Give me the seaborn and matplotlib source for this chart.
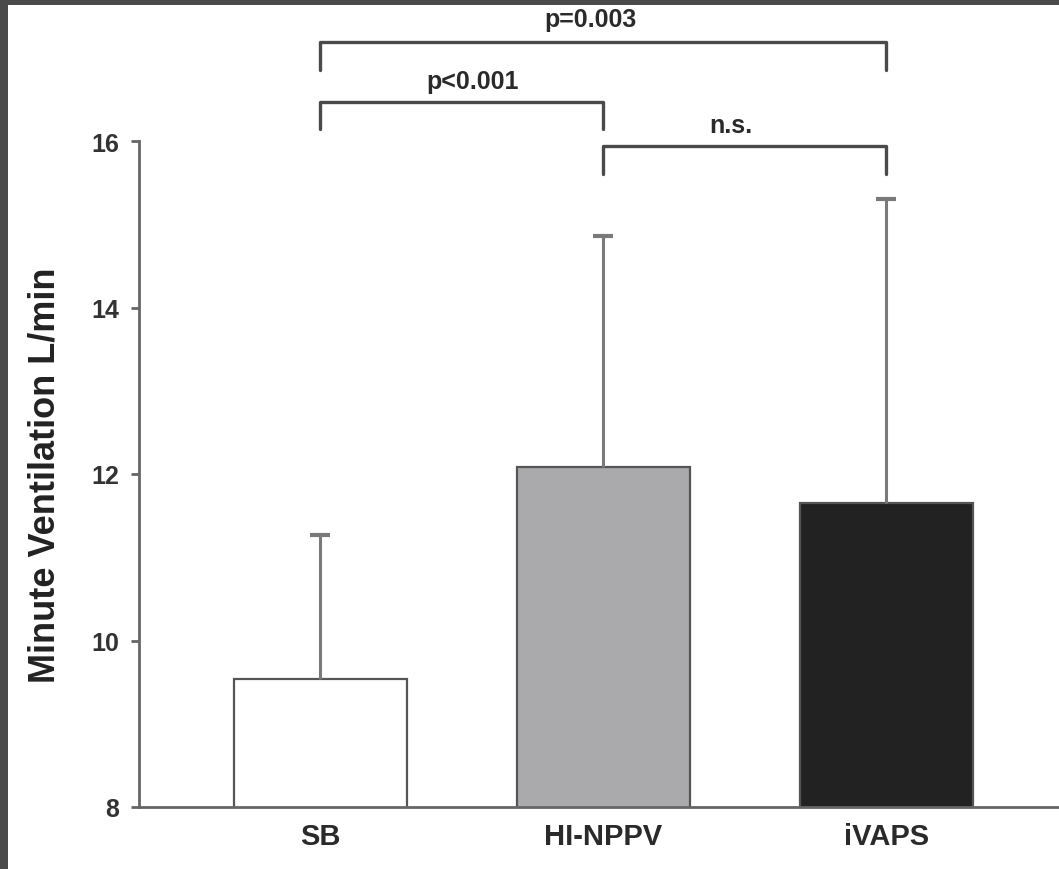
import matplotlib
matplotlib.use("Agg")
import matplotlib.pyplot as plt
from matplotlib.patches import Rectangle
import seaborn as sns

categories = ["SB", "HI-NPPV", "iVAPS"]
means = [9.54, 12.08, 11.65]
sds = [1.73, 2.78, 3.65]
bar_colors = ["#ffffff", "#a9aaae", "#222222"]
yticks = [8, 10, 12, 14, 16]
comparisons = [(0, 1, "p<0.001"), (0, 2, "p=0.003"), (1, 2, "n.s.")]

sns.set_style("white")
plt.rcParams["font.family"] = ["Liberation Sans", "DejaVu Sans"]
plt.rcParams["font.weight"] = "bold"

fig = plt.figure(figsize=(10.59, 8.70), dpi=100)
fig.patch.set_facecolor("#4a4a4a")
fig.patches.append(Rectangle((8 / 1059, 0), 1, 1 - 6 / 870, transform=fig.transFigure,
                             facecolor="white", edgecolor="none", zorder=-10))

ax = fig.add_axes([139 / 1059, 1 - 808 / 870, 1 - 139 / 1059, (808 - 142) / 870])
ax.set_facecolor("none")

sns.barplot(x=categories, y=means, hue=categories, palette=bar_colors, legend=False,
            width=0.61, edgecolor="#555555", linewidth=1.6, ax=ax, zorder=2)
_, caps, _ = ax.errorbar(x=list(range(len(categories))), y=means,
                         yerr=[[0] * len(sds), sds], fmt="none", ecolor="#7a7a7a",
                         elinewidth=2.2, capsize=7, capthick=3, zorder=3)
caps[0].set_visible(False)

ax.set_ylim(8, 16)
ax.set_xlim(-0.64, 2.61)
ax.set_yticks(yticks)
ax.set_yticklabels([str(t) for t in yticks], fontsize=18, fontweight="bold", color="#333333")
ax.set_xticks(range(len(categories)))
ax.set_xticklabels(categories, fontsize=21, fontweight="bold", color="#2a2a2a")
ax.tick_params(axis="y", length=6, width=2, color="#666666", pad=8, left=True)
ax.tick_params(axis="x", length=0, pad=11)

for s in ["top", "right"]:
    ax.spines[s].set_visible(False)
for s in ["left", "bottom"]:
    ax.spines[s].set_color("#666666")
    ax.spines[s].set_linewidth(2)

ax.set_xlabel("")
ax.set_ylabel("Minute Ventilation L/min", fontsize=26, fontweight="bold", color="#222222")
ax.yaxis.set_label_coords(-0.083, 0.5)

# significance brackets
bracket_levels = {"p<0.001": (16.47, 16.14, 16.64, 0.537),
                  "p=0.003": (17.19, 16.85, 17.38, 0.954),
                  "n.s.": (15.94, 15.60, 16.11, 1.449)}
for a, b, lab in comparisons:
    top, bot, ty, tx = bracket_levels[lab]
    ax.plot([a, a, b, b], [bot, top, top, bot], color="#4a4a4a", lw=2.4,
            solid_joinstyle="round", solid_capstyle="round", clip_on=False, zorder=4)
    ax.text(tx, ty, lab, ha="center", va="baseline", fontsize=18, fontweight="bold",
            color="#2a2a2a", clip_on=False)

fig.savefig("out.png", dpi=100, facecolor=fig.get_facecolor())
